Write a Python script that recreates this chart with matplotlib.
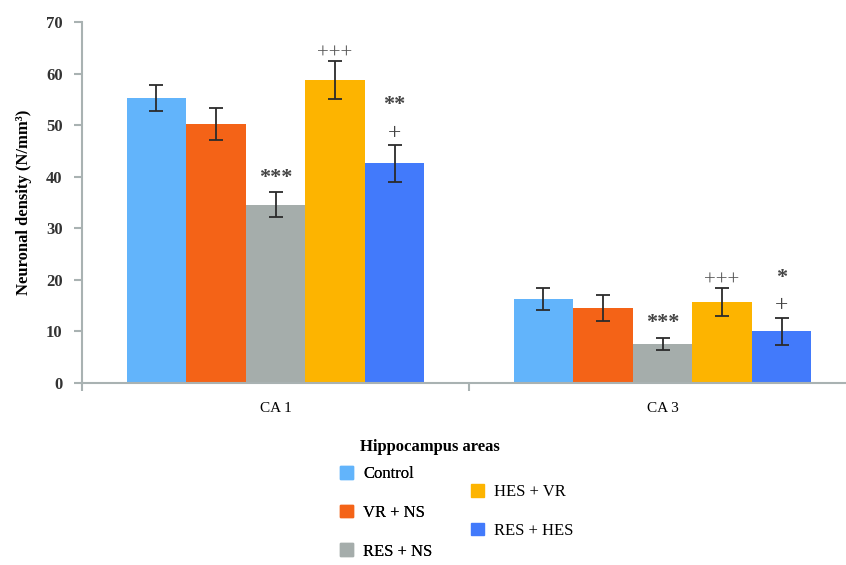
import numpy as np
import matplotlib
matplotlib.use('Agg')
import matplotlib.pyplot as plt
from matplotlib.patches import Patch

plt.rcParams['font.family'] = ['Liberation Serif', 'DejaVu Serif']

areas = ['CA 1', 'CA 3']
groups = ['Control', 'VR + NS', 'RES + NS', 'HES + VR', 'RES + HES']
colors = ['#62B4FB', '#F46317', '#A5ADAB', '#FDB400', '#427AFB']

# mean neuronal density per group, one value per area (CA1, CA3)
means = [
    [55.3, 16.3],
    [50.2, 14.6],
    [34.6, 7.6],
    [58.8, 15.7],
    [42.6, 10.0],
]
errs = [
    [2.5, 2.1],
    [3.1, 2.5],
    [2.5, 1.2],
    [3.7, 2.8],
    [3.6, 2.7],
]
# significance marks (group index, area index, text)
marks = [
    (2, 0, '***'), (3, 0, '+++'), (4, 0, '**'), (4, 0, '+'),
    (2, 1, '***'), (3, 1, '+++'), (4, 1, '*'), (4, 1, '+'),
]

fig = plt.figure(figsize=(8.46, 5.65), dpi=100)
ax = fig.add_axes([82/846, 1-383/565, 774/846, 361/565])

x = np.arange(len(areas))
w = 0.154
for i in range(len(groups)):
    pos = x + (i - 2) * w
    ax.bar(pos, means[i], w, color=colors[i], label=groups[i], zorder=2)
    ax.errorbar(pos, means[i], yerr=errs[i], fmt='none', ecolor='#2b2b2b',
                elinewidth=1.3, capsize=5, capthick=1.3, zorder=3)

# stars / crosses above the bars
for gi, ai, txt in marks:
    top = means[gi][ai] + errs[gi][ai]
    pos = x[ai] + (gi - 2) * w
    if txt == '+++':
        ax.text(pos, top - 0.6, txt, ha='center', va='bottom', fontsize=15,
                color='#555555')
    elif txt == '+':
        ax.text(pos, top + 0.2, txt, ha='center', va='bottom', fontsize=17,
                color='#444444')
    elif gi == 4:
        ax.text(pos, top + 5.8, txt, ha='center', va='bottom', fontsize=16,
                color='#444444', fontweight='bold')
    else:
        ax.text(pos, top + 0.8, txt, ha='center', va='bottom', fontsize=16,
                color='#444444', fontweight='bold')

ax.set_ylim(0, 70)
ax.set_yticks(range(0, 71, 10))
ax.set_xlim(-0.5, 1.5)
ax.set_xticks(x)
ax.set_xticklabels(areas, fontsize=11)
ax.tick_params(axis='x', length=0, pad=14)
ax.set_xticks([-0.5, 0.5, 1.5], minor=True)
ax.tick_params(axis='x', which='minor', length=6, color='#a9b2b2', width=1.5)
ax.tick_params(axis='y', length=6, color='#a9b2b2', width=1.5, labelsize=12, pad=8)
for lab in ax.get_yticklabels():
    lab.set_fontweight('bold')
    lab.set_color('#333333')

for s in ['top', 'right']:
    ax.spines[s].set_visible(False)
for s in ['left', 'bottom']:
    ax.spines[s].set_color('#a9b2b2')
    ax.spines[s].set_linewidth(1.5)

ax.set_ylabel('Neuronal density (N/mm³)', fontsize=12, fontweight='bold', labelpad=10)
fig.text(430/846, 1-447/565, 'Hippocampus areas', ha='center', va='center',
         fontsize=12, fontweight='bold')

handles = [Patch(color=c) for c in colors]
leg_kw = dict(frameon=False, fontsize=12, handlelength=0.8, handleheight=0.8,
              handletextpad=0.6, labelspacing=1.35, borderpad=0, borderaxespad=0)
leg1 = fig.legend([handles[0], handles[1], handles[2]], groups[:3],
                  loc='upper left', bbox_to_anchor=(340/846, 1-466/565), **leg_kw)
fig.add_artist(leg1)
fig.legend([handles[3], handles[4]], groups[3:],
           loc='upper left', bbox_to_anchor=(471/846, 1-484/565), **leg_kw)

fig.savefig('out.png', dpi=100)
